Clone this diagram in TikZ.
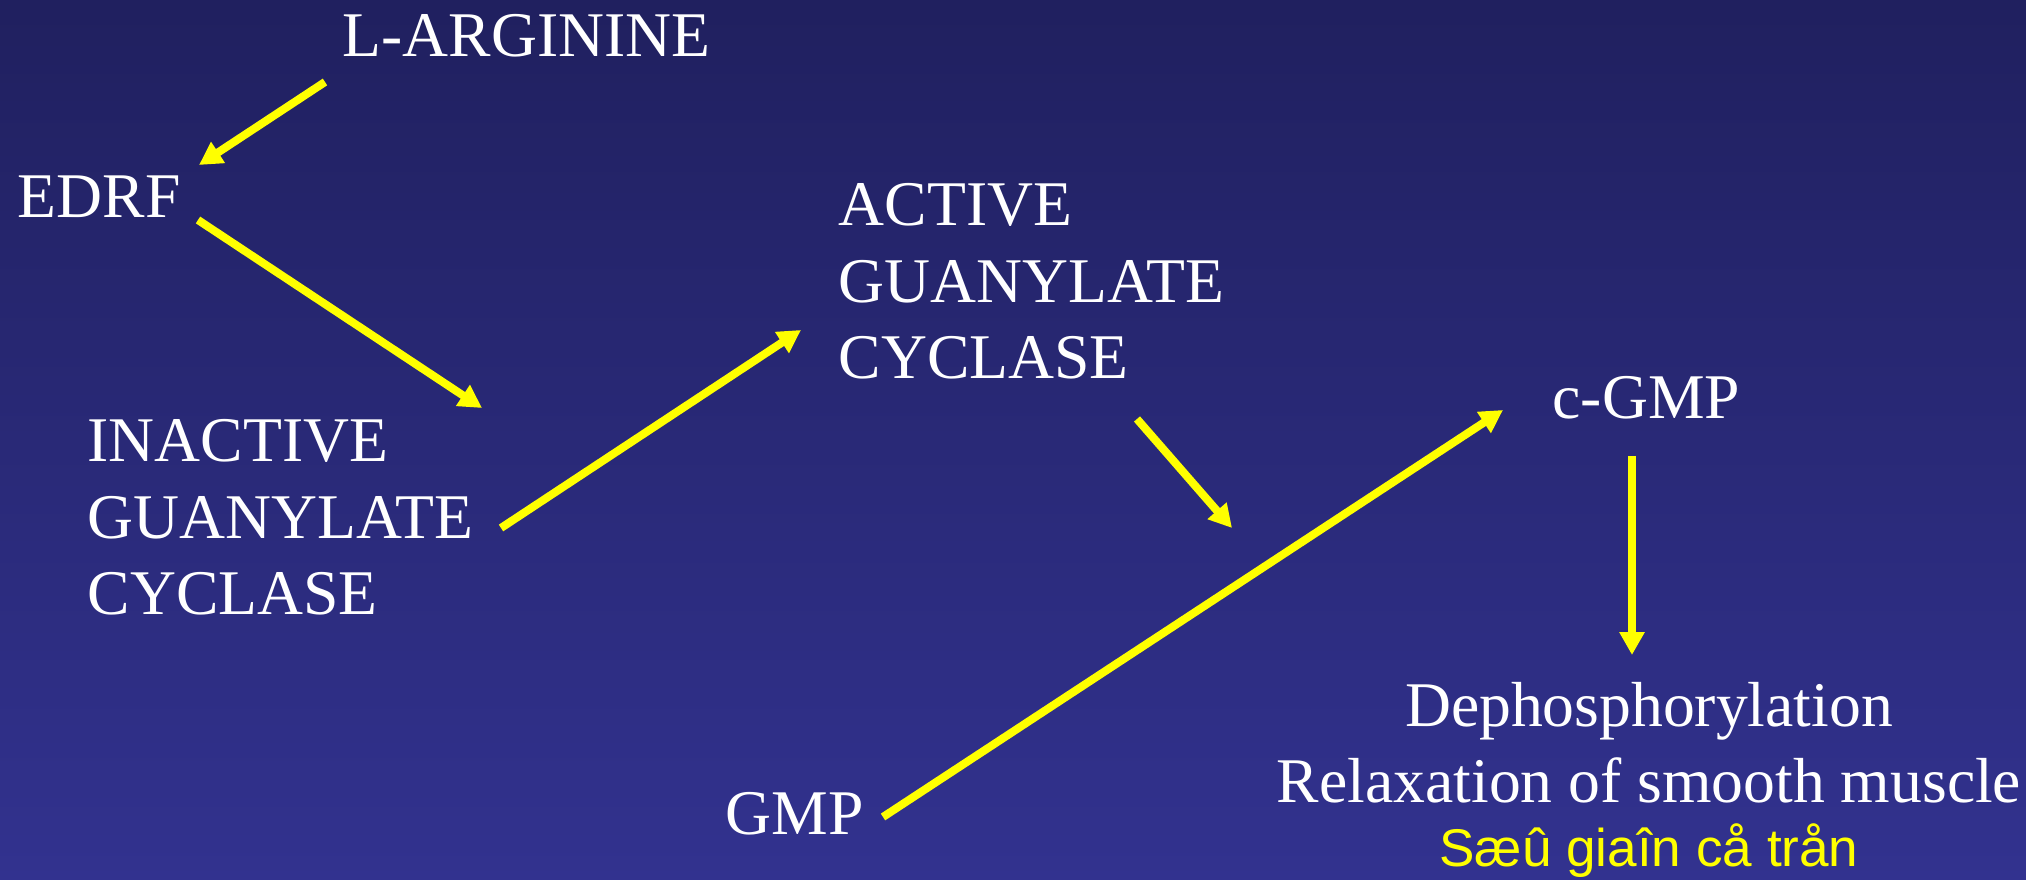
\documentclass[tikz,border=0pt]{standalone}
\usepackage{fontspec}
\setmainfont{Liberation Serif}
\newfontfamily\arialf{Liberation Sans}
\usetikzlibrary{arrows.meta}
\definecolor{bgtop}{RGB}{32,32,95}
\definecolor{bgbot}{RGB}{50,50,143}
\definecolor{arrowyellow}{RGB}{255,255,0}
\begin{document}
\begin{tikzpicture}[x=0.01cm,y=-0.01cm,
  lbl/.style={text=white,inner sep=0pt,font=\fontsize{18.1pt}{21.8pt}\selectfont,align=left,anchor=base west},
  arr/.style={draw=arrowyellow,line width=2.28pt,-{Triangle[length=6.5pt,width=6.8pt]}}]
\shade[top color=bgtop,bottom color=bgbot] (0,0) rectangle (2026,880);
\useasboundingbox (0,0) rectangle (2026,880);
% nodes (base = baseline of the last line)
\node[lbl] (larg) at (342,57) {L-ARGININE};
\node[lbl] (edrf) at (17,218) {EDRF};
\node[lbl] (inact) at (87,615) {INACTIVE\\GUANYLATE\\CYCLASE};
\node[lbl] (act) at (838,379) {ACTIVE\\GUANYLATE\\CYCLASE};
\node[lbl] (cgmp) at (1552,419) {c-GMP};
\node[lbl] (gmp) at (725,835) {GMP};
\node[lbl,align=center,anchor=base] (deph) at (1649,803) {Dephosphorylation\\Relaxation of smooth muscle};
\node[inner sep=0pt,anchor=base,text=arrowyellow,font=\arialf\fontsize{15.1pt}{18pt}\selectfont] (viet) at (1649,867) {Sæû giaîn cå trån};
\coordinate (meet) at (1232,528);
% connectors
\draw[arr] ([shift={(-17,25)}]larg.base west) -- ([shift={(182,-53)}]edrf.base west);
\draw[arr] ([shift={(181,2)}]edrf.base west) -- ([shift={(395,-207)}]inact.base west);
\draw[arr] ([shift={(414,-87)}]inact.base west) -- ([shift={(-37,-49)}]act.base west);
\draw[arr] ([shift={(299,40)}]act.base west) -- (meet);
\draw[arr] ([shift={(158,-18)}]gmp.base west) -- ([shift={(-49,-9)}]cgmp.base west);
\draw[arr] ([shift={(80,37)}]cgmp.base west) -- ([shift={(-17,-148)}]deph.base);
\end{tikzpicture}
\end{document}
